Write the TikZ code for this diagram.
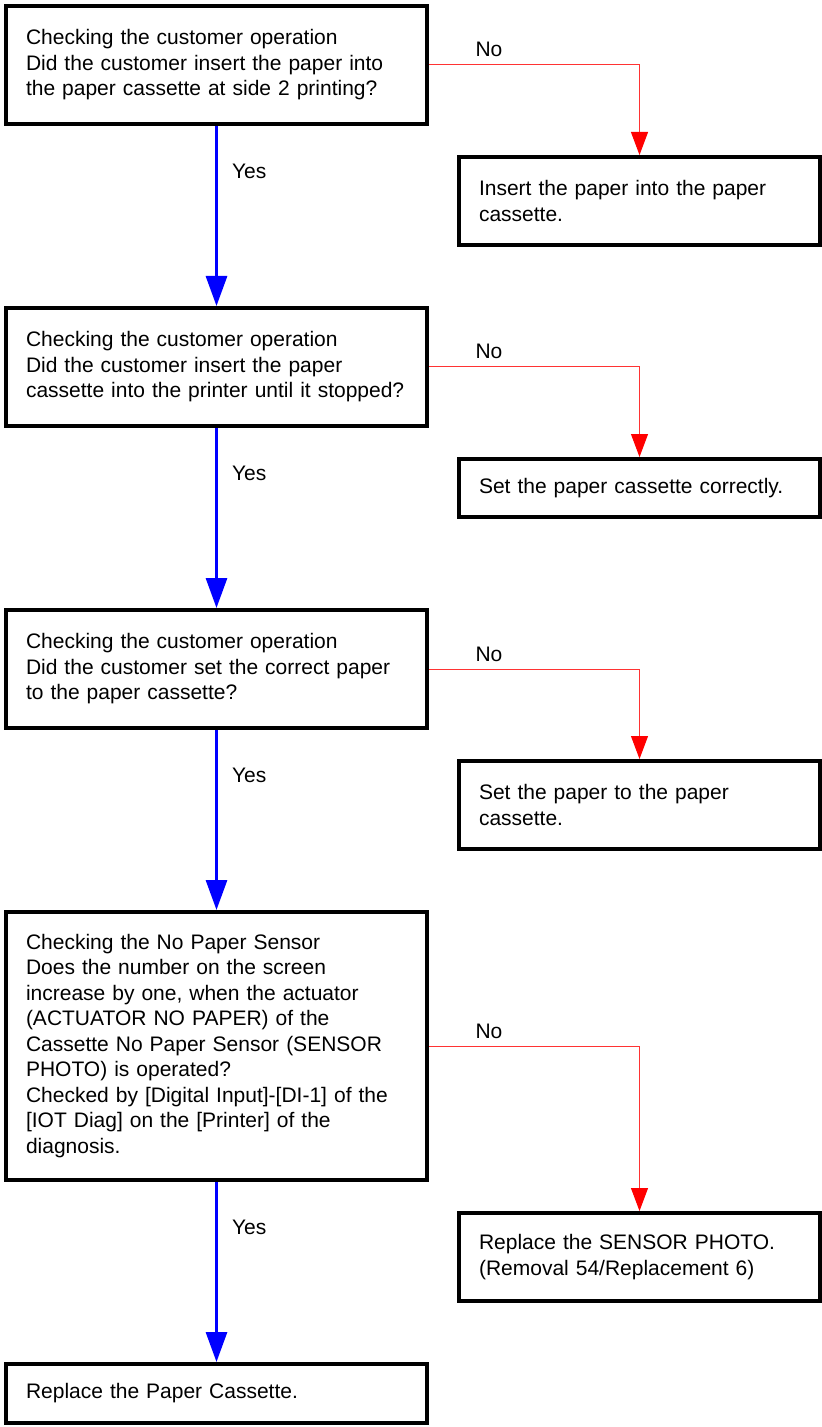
\documentclass[tikz,border=0pt]{standalone}
\usepackage{fontspec}
\setmainfont{Liberation Sans}
\usetikzlibrary{positioning, arrows.meta}

\begin{document}
\begin{tikzpicture}[
    node distance=90pt,
    every node/.style={font=\fontsize{10.5pt}{12.75pt}\selectfont},
    check/.style={draw, line width=2pt, text width=190.5pt, inner xsep=10pt,
                  inner ysep=0pt, align=left, minimum height=59pt},
    action/.style={draw, line width=2pt, text width=160.5pt, inner xsep=10pt,
                   inner ysep=0pt, align=left, minimum height=44pt},
    yesarrow/.style={-{Triangle[length=15pt, width=10.5pt]}, blue, line width=1.5pt},
    noarrow/.style={-{Triangle[length=11.5pt, width=8.5pt, color=red]}, red!80, line width=0.5pt},
    yeslbl/.style={anchor=base west, xshift=7pt, yshift=-26.3pt, inner sep=0pt, text=black},
    nolbl/.style={anchor=base west, xshift=23pt, yshift=4pt, inner sep=0pt, text=black},
]
\node[check, anchor=north west] (q1) at (0,0) {Checking the customer operation\\Did the customer insert the paper into\\the paper cassette at side 2 printing?};
\node[check, below=of q1] (q2) {Checking the customer operation\\Did the customer insert the paper\\\mbox{cassette into the printer until it stopped?}};
\node[check, below=of q2] (q3) {Checking the customer operation\\Did the customer set the correct paper\\to the paper cassette?};
\node[check, below=of q3, minimum height=134pt] (q4) {Checking the No Paper Sensor\\Does the number on the screen\\increase by one, when the actuator\\(ACTUATOR NO PAPER) of the\\Cassette No Paper Sensor (SENSOR\\PHOTO) is operated?\\Checked by [Digital Input]-[DI-1] of the\\{}[IOT Diag] on the [Printer] of the\\diagnosis.};
\node[check, below=of q4, minimum height=29.5pt] (done) {Replace the Paper Cassette.};

% answers for the "No" branches
\node[action, below right=14.5pt and 14pt of q1] (a1) {Insert the paper into the paper\\cassette.};
\node[action, below right=14.5pt and 14pt of q2, minimum height=29pt] (a2) {Set the paper cassette correctly.};
\node[action, below right=14.5pt and 14pt of q3] (a3) {Set the paper to the paper\\cassette.};
\node[action, below right=14.5pt and 14pt of q4] (a4) {Replace the SENSOR PHOTO.\\(Removal 54/Replacement 6)};

\draw[yesarrow] (q1.south) node[yeslbl] {Yes} -- (q2.north);
\draw[yesarrow] (q2.south) node[yeslbl] {Yes} -- (q3.north);
\draw[yesarrow] (q3.south) node[yeslbl] {Yes} -- (q4.north);
\draw[yesarrow] (q4.south) node[yeslbl] {Yes} -- (done.north);

\draw[noarrow] (q1.east) node[nolbl] {No} -| (a1.north);
\draw[noarrow] (q2.east) node[nolbl] {No} -| (a2.north);
\draw[noarrow] (q3.east) node[nolbl] {No} -| (a3.north);
\draw[noarrow] (q4.east) node[nolbl] {No} -| (a4.north);

\useasboundingbox (-2pt,2pt) rectangle (409pt,-711.5pt);
\end{tikzpicture}
\end{document}
